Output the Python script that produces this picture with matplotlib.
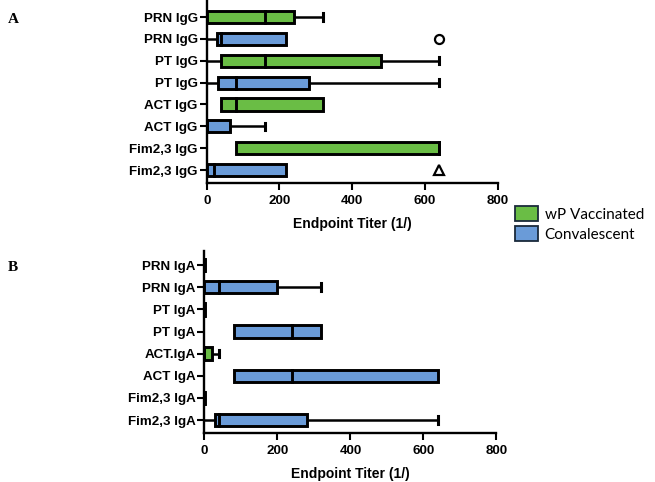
import matplotlib.pyplot as plt
from matplotlib.patches import Patch

# panel A: IgG
labels_a = ["PRN IgG", "PRN IgG", "PT IgG", "PT IgG", "ACT IgG", "ACT IgG", "Fim2,3 IgG", "Fim2,3 IgG"]
groups_a = ["wP", "conv", "wP", "conv", "wP", "conv", "wP", "conv"]
q1_a = [0, 28, 40, 30, 40, 0, 80, 0]
med_a = [160, 40, 160, 80, 80, 0, 640, 20]
q3_a = [240, 218, 480, 280, 320, 65, 640, 218]
lo_a = [0, 0, 0, 0, 40, 0, 80, 0]
hi_a = [320, 218, 640, 640, 320, 160, 640, 218]
circle_a = (640, 1)      # outlier value, row
triangle_a = (640, 7)

# panel B: IgA
labels_b = ["PRN IgA", "PRN IgA", "PT IgA", "PT IgA", "ACT.IgA", "ACT IgA", "Fim2,3 IgA", "Fim2,3 IgA"]
groups_b = ["wP", "conv", "wP", "conv", "wP", "conv", "wP", "conv"]
q1_b = [0, 0, 0, 80, 0, 80, 0, 30]
med_b = [0, 40, 0, 240, 0, 240, 0, 40]
q3_b = [3, 200, 3, 320, 20, 640, 3, 280]
lo_b = [0, 0, 0, 80, 0, 80, 0, 0]
hi_b = [3, 320, 3, 320, 40, 640, 3, 640]

xticks = [0, 200, 400, 600, 800]
colors = {"wP": "#6abd45", "conv": "#6a9bd8"}
legend_names = {"wP": "wP Vaccinated", "conv": "Convalescent"}

font = ["Liberation Sans", "DejaVu Sans"]
lw = 2.1


def draw_panel(ax, labels, groups, q1, med, q3, lo, hi, ylim):
    n = len(labels)
    ys = list(range(n))
    h = 0.56
    for i in ys:
        c = colors[groups[i]]
        # whiskers
        if lo[i] < q1[i]:
            ax.plot([lo[i], q1[i]], [i, i], color="black", lw=1.8, zorder=2)
        if hi[i] > q3[i]:
            ax.plot([q3[i], hi[i]], [i, i], color="black", lw=1.8, zorder=2)
            ax.plot([hi[i], hi[i]], [i - 0.17, i + 0.17], color="black", lw=2.2, zorder=2)
        # box
        ax.barh(i, q3[i] - q1[i], left=q1[i], height=h, color=c,
                edgecolor="black", linewidth=lw, zorder=3)
        ax.plot([med[i], med[i]], [i - h / 2, i + h / 2], color="black", lw=lw, zorder=4)

    ax.set_yticks(ys)
    ax.set_yticklabels(labels, fontweight="bold", fontsize=9.6, family=font)
    ax.set_ylim(*ylim)
    ax.set_xlim(0, 800)
    ax.set_xticks(xticks)
    ax.set_xticklabels([str(t) for t in xticks], fontweight="bold", fontsize=9.6, family=font)
    ax.set_xlabel("Endpoint Titer (1/)", fontweight="bold", fontsize=10, family=font, labelpad=7)
    for s in ["top", "right"]:
        ax.spines[s].set_visible(False)
    for s in ["left", "bottom"]:
        ax.spines[s].set_linewidth(1.7)
    ax.tick_params(axis="x", width=1.5, length=5, pad=4)
    ax.tick_params(axis="y", width=1.5, length=5, pad=1.5)


fig = plt.figure(figsize=(6.55, 4.82), dpi=100)

ax_a = fig.add_axes([0.3156, 0.621, 0.444, 0.378])
draw_panel(ax_a, labels_a, groups_a, q1_a, med_a, q3_a, lo_a, hi_a, (7.58, -0.76))
ax_a.plot(circle_a[0], circle_a[1], marker="o", mfc="white", mec="black", ms=6.5, mew=1.6,
          clip_on=False, zorder=5)
ax_a.plot(triangle_a[0], triangle_a[1], marker="^", mfc="white", mec="black", ms=7, mew=1.6,
          clip_on=False, zorder=5)

ax_b = fig.add_axes([0.312, 0.1023, 0.446, 0.3776])
draw_panel(ax_b, labels_b, groups_b, q1_b, med_b, q3_b, lo_b, hi_b, (7.57, -0.65))

fig.text(0.012, 0.952, "A", family=["Liberation Serif", "DejaVu Serif"], fontweight="bold", fontsize=11)
fig.text(0.012, 0.438, "B", family=["Liberation Serif", "DejaVu Serif"], fontweight="bold", fontsize=11)

handles = [Patch(facecolor=colors[g], edgecolor="#1a2a3a", linewidth=1.3, label=legend_names[g])
           for g in ["wP", "conv"]]
fig.legend(handles=handles, loc="upper left", bbox_to_anchor=(0.786, 0.572), frameon=False,
           prop={"family": ["Lato", "DejaVu Sans"], "size": 11},
           handlelength=1.5, handleheight=1.15, handletextpad=0.45, labelspacing=0.25,
           borderaxespad=0, borderpad=0)

fig.savefig("out.png", dpi=100)
